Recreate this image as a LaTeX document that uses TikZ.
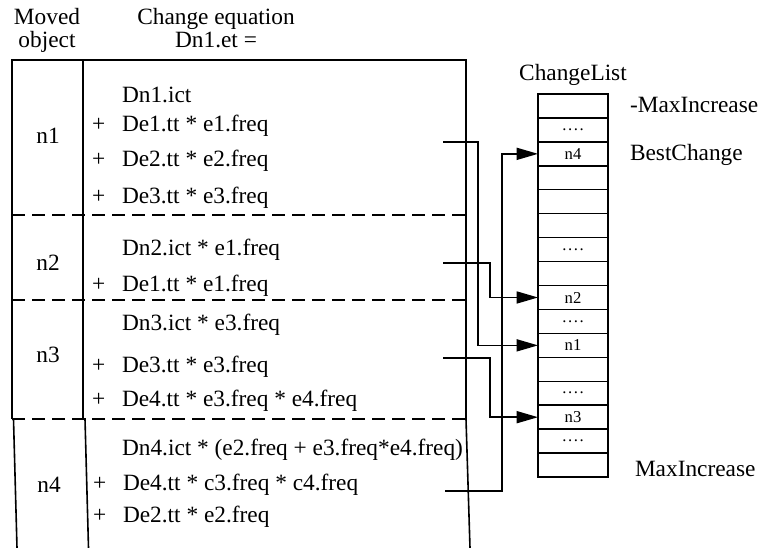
\documentclass[tikz,border=0pt]{standalone}
\usepackage{fontspec}
\setmainfont{Liberation Serif}
\usetikzlibrary{arrows.meta}
\newcommand\fourdots{.\kern1.2pt.\kern1.2pt.\kern1.2pt.}
\begin{document}
\begin{tikzpicture}[x=0.75pt,y=-0.75pt,
  every node/.style={inner sep=0pt,outer sep=0pt},
  txt/.style={anchor=base west,font=\fontsize{17.5}{20}\selectfont},
  hdr/.style={anchor=base,font=\fontsize{17.5}{20}\selectfont},
  rule/.style={line width=1.2pt},
  sep/.style={line width=1pt,dash pattern=on 9.5pt off 5.5pt},
  cell/.style={draw,line width=1.1pt,minimum width=52.5pt,minimum height=17.96pt,
               font=\fontsize{12.5}{14}\selectfont},
  link/.style={line width=1.2pt,-{Triangle[length=16pt,width=9pt]}},
]
\useasboundingbox (0,0) rectangle (768,548);

% column headings
\node[hdr] (mv1) at (47,25) {Moved};
\node[hdr] (mv2) at (47,48) {object};
\node[hdr] (ce1) at (216,25) {Change equation};
\node[hdr] (ce2) at (216,48) {Dn1.et =};

% table frame (the lowest section sits slightly askew) and separators
\draw[rule] (12,419) -- (12,60) -- (466,60) -- (466,419);
\draw[rule] (83,60) -- (83,419);
\draw[rule] (12,419) -- (13.5,419) -- (17,548);
\draw[rule] (83,419) -- (85,419) -- (88.5,548);
\draw[rule] (466,419) -- (470,548);
\draw[sep] (12,215) -- (466,215);
\draw[sep] (12,300) -- (466,300);
\draw[sep] (12,419) -- (466,419);

% moved objects
\node[hdr] (o1) at (48,144) {n1};
\node[hdr] (o2) at (48,271) {n2};
\node[hdr] (o3) at (48,363) {n3};
\node[hdr] (o4) at (49,493) {n4};

% change equations
\node[txt] (e11) at (122,103) {Dn1.ict};
\node[txt] (p12) at (92,132) {+};  \node[txt] (e12) at (122,132) {De1.tt * e1.freq};
\node[txt] (p13) at (92,167) {+};  \node[txt] (e13) at (122,167) {De2.tt * e2.freq};
\node[txt] (p14) at (92,204) {+};  \node[txt] (e14) at (122,204) {De3.tt * e3.freq};

\node[txt] (e21) at (122,256) {Dn2.ict * e1.freq};
\node[txt] (p22) at (92,292) {+};  \node[txt] (e22) at (122,292) {De1.tt * e1.freq};

\node[txt] (e31) at (122,331) {Dn3.ict * e3.freq};
\node[txt] (p32) at (92,373) {+};  \node[txt] (e32) at (122,373) {De3.tt * e3.freq};
\node[txt] (p33) at (92,407) {+};  \node[txt] (e33) at (122,407) {De4.tt * e3.freq * e4.freq};

\node[txt] (e41) at (122,456) {Dn4.ict * (e2.freq + e3.freq*e4.freq)};
\node[txt] (p42) at (93,491) {+};  \node[txt] (e42) at (123,491) {De4.tt * c3.freq * c4.freq};
\node[txt] (p43) at (93,523) {+};  \node[txt] (e43) at (123,523) {De2.tt * e2.freq};

% change list
\node[hdr] (cl) at (573,81) {ChangeList};
\foreach \i/\t in {1/,2/\fourdots,3/n4,4/,5/,6/,7/\fourdots,8/,9/n2,10/\fourdots,11/n1,12/,13/\fourdots,14/n3,15/\fourdots,16/}
  \node[cell] (c\i) at (573,{94+23.94*(\i-0.5)}) {\t};

\node[txt] (mxi) at (630,113) {-MaxIncrease};
\node[txt] (bst) at (630,161) {BestChange};
\node[txt] (mxa) at (635,477) {MaxIncrease};

% links from each equation to its entry in the list
\coordinate (s1) at (443,142);
\coordinate (s2) at (443,263);
\coordinate (s3) at (443,358);
\coordinate (s4) at (445,491);
\draw[link] (s1) -- (478,142) |- (c11.west);
\draw[link] (s2) -- (490,263) |- (c9.west);
\draw[link] (s3) -- (490,358) |- (c14.west);
\draw[link] (s4) -- (502,491) |- (c3.west);
\end{tikzpicture}
\end{document}
